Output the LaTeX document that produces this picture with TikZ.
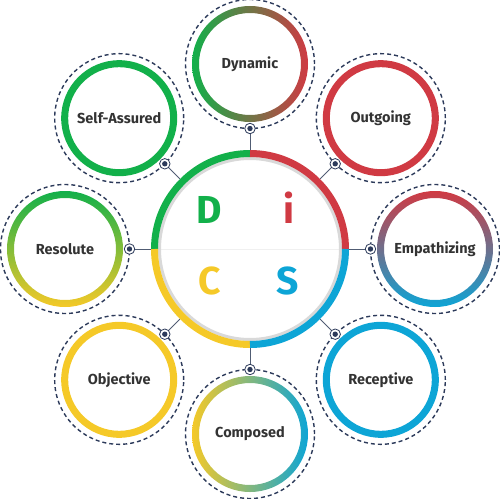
\documentclass[tikz,border=0pt]{standalone}
\usepackage{fontspec}
\setmainfont{Fira Sans}
\definecolor{discgreen}{RGB}{18,176,74}
\definecolor{discred}{RGB}{208,58,67}
\definecolor{discyellow}{RGB}{245,201,40}
\definecolor{discblue}{RGB}{13,165,214}
\definecolor{dashnavy}{RGB}{44,58,90}
\definecolor{linkgray}{RGB}{80,92,115}
\definecolor{labelgray}{RGB}{51,51,51}
\begin{document}
\begin{tikzpicture}[x=1pt, y=1pt,
		trait/.style={circle, minimum size=116, inner sep=0, text=labelgray, font=\bfseries\fontsize{14.5}{17}\selectfont},
		halo/.style={dashnavy, line width=1.4, dash pattern=on 4pt off 3pt},
		pin/.style={circle, draw=dashnavy, line width=0.8, fill=white, minimum size=10.5, inner sep=0},
		link/.style={draw=linkgray, line width=0.9},
		letter/.style={anchor=base, font=\bfseries\fontsize{39}{44}\selectfont},
		ringdyn/.style={left color=discgreen, right color=discred},
		ringout/.style={fill=discred},
		ringemp/.style={top color=discred, bottom color=discblue},
		ringrec/.style={fill=discblue},
		ringcom/.style={left color=discyellow, right color=discblue},
		ringobj/.style={fill=discyellow},
		ringres/.style={top color=discgreen, bottom color=discyellow},
		ringsel/.style={fill=discgreen}]
			% Bildbereich
			\useasboundingbox (-250,-249) rectangle (250,249);
			% Mittelkreis
			\node[circle, minimum size=198, inner sep=0] (disc) at (0,0) {};
			\draw[gray!12, line width=0.6] (-92,0) -- (92,0);
			\draw[gray!30, line width=3] (0,0) circle (90.5);
			\draw[discgreen, line width=7] (90:95.5) arc (90:180:95.5);
			\draw[discred, line width=7] (0:95.5) arc (0:90:95.5);
			\draw[discyellow, line width=7] (180:95.5) arc (180:270:95.5);
			\draw[discblue, line width=7] (270:95.5) arc (270:360:95.5);
			% Buchstaben
			\node[letter, text=discgreen] (letD) at (-41,26) {D};
			\node[letter, text=discred] (leti) at (39,26) {i};
			\node[letter, text=discyellow] (letC) at (-40,-45) {C};
			\node[letter, text=discblue] (letS) at (38,-45) {S};
			% Eigenschaften rundherum
			\foreach \ang/\nm/\txt in {90/dyn/Dynamic, 45/out/Outgoing, 0/emp/Empathizing, -45/rec/Receptive, -90/com/Composed, -135/obj/Objective, 180/res/Resolute, 135/sel/Self-Assured}{
				\node[trait] (\nm) at (\ang:185) {\txt};
				\draw[halo] (\nm.center) circle (64.5);
				\path[ring\nm, even odd rule] (\nm.center) circle (58) (\nm.center) circle (51);
				\node[pin] (pin\nm) at (\ang:120.5) {};
				\fill[dashnavy] (pin\nm.center) circle (2.7);
				\draw[link] (disc) -- (pin\nm);
			}
		\end{tikzpicture}
\end{document}
